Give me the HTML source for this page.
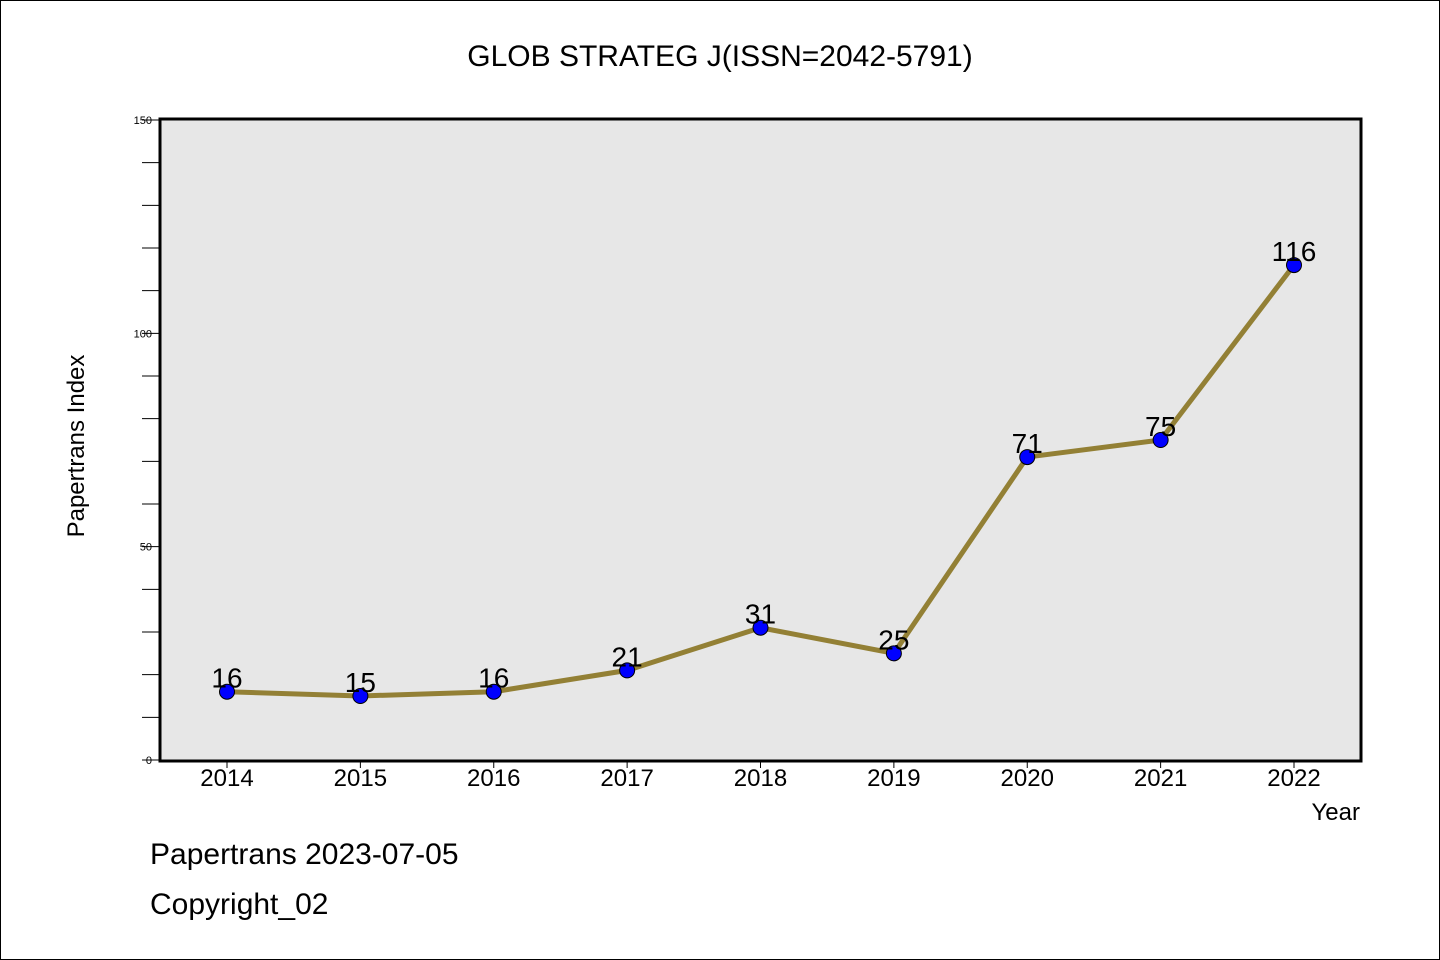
<!DOCTYPE html>
<html><head><meta charset="utf-8"><style>
body{margin:0;background:#fff}
svg{display:block;font-family:"WenQuanYi Zen Hei","Liberation Sans",sans-serif}
</style></head><body>
<svg width="1440" height="960">
<rect x="0.5" y="0.5" width="1439" height="959" fill="#fff" stroke="#000"/>
<text x="720" y="66" font-size="30" text-anchor="middle">GLOB STRATEG J(ISSN=2042-5791)</text>
<rect x="160" y="119" width="1201" height="642" fill="#e7e7e7"/>
<g id="yaxis"></g>
<g id="xaxis"></g>
<g id="series"></g>
<rect x="160" y="119" width="1201" height="642" fill="none" stroke="#000" stroke-width="3"/>
<text transform="translate(84,446) rotate(-90)" font-size="24" text-anchor="middle">Papertrans Index</text>
<text x="1360" y="820" font-size="24" text-anchor="end">Year</text>
<text x="150" y="864" font-size="30">Papertrans 2023-07-05</text>
<text x="150" y="914" font-size="30">Copyright_02</text>
</svg>
<script>
const years=[2014,2015,2016,2017,2018,2019,2020,2021,2022];
const values=[16,15,16,21,31,25,71,75,116];
const yTickLabels=[0,50,100,150];
const NS="http://www.w3.org/2000/svg";
function X(i){return 227+i*(1294-227)/8;}
function Y(v){return 760-v*(640/150);}
function mk(t,a,p){const e=document.createElementNS(NS,t);for(const k in a)e.setAttribute(k,a[k]);p.appendChild(e);return e;}
const ya=document.getElementById('yaxis'),xa=document.getElementById('xaxis'),s=document.getElementById('series');
for(let v=0;v<=150;v+=10){
  const l=mk('line',{x1:142,x2:160,y1:Y(v),y2:Y(v),stroke:'#000','stroke-width':1},ya);
  
  
}
yTickLabels.forEach(v=>{
  const t=mk('text',{x:152,y:Y(v)+4,'font-size':11,'text-anchor':'end'},ya);
  t.textContent=v;
  
  
});
years.forEach((yr,i)=>{
  const l=mk('line',{x1:X(i),x2:X(i),y1:761,y2:768,stroke:'#000','stroke-width':1},xa);
  
  
  const t=mk('text',{x:X(i),y:786,'font-size':24,'text-anchor':'middle'},xa);
  t.textContent=yr;
  
  
});
const pl=mk('polyline',{points:values.map((v,i)=>X(i)+','+Y(v)).join(' '),fill:'none',stroke:'#938035','stroke-width':5},s);


values.forEach((v,i)=>{
  const c=mk('circle',{cx:X(i),cy:Y(v),r:7.5,fill:'#0000ff',stroke:'#000','stroke-width':1},s);
  
  
  const t=mk('text',{x:X(i),y:Y(v)-4,'font-size':28,'text-anchor':'middle'},s);
  t.textContent=v;
  
  
});
</script>
</body></html>
